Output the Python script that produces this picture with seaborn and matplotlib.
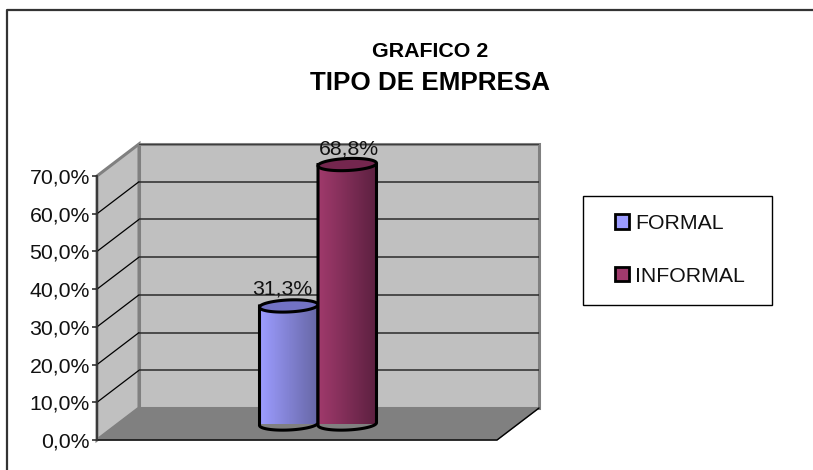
import matplotlib
matplotlib.use("Agg")
import matplotlib.pyplot as plt
import numpy as np
import pandas as pd
import seaborn as sns
from matplotlib.colors import LinearSegmentedColormap
from matplotlib.patches import Patch, Polygon, Rectangle

# --- data ---
tipos = ["FORMAL", "INFORMAL"]
porcentajes = [31.3, 68.8]
etiquetas = ["31,3%", "68,8%"]
ticks = [0, 10, 20, 30, 40, 50, 60, 70]
tick_labels = ["0,0%", "10,0%", "20,0%", "30,0%", "40,0%", "50,0%", "60,0%", "70,0%"]
luz = ["#9C9CFF", "#A03A6C"]
sombra = ["#6666A4", "#5C2040"]
tapa = ["#7272C4", "#74264E"]

W, H = 813, 470
sns.set_theme(style="white")
plt.rcParams["font.family"] = ["Liberation Sans", "DejaVu Sans"]
fig = plt.figure(figsize=(W / 100, H / 100), dpi=100)
font = 15.3


def pix_axes(x0, y_top, x1, y_bot, **kw):
    # axes placed from picture pixels (y going down)
    return fig.add_axes([x0 / W, 1 - y_bot / H, (x1 - x0) / W, (y_bot - y_top) / H], **kw)


# --- box: full figure in pixel coords, for the walls and floor ---
deco = pix_axes(0, 0, W, H)
deco.set_xlim(0, W)
deco.set_ylim(H, 0)
deco.axis("off")
deco.plot([6.5, 6.5, W], [H, 9.5, 9.5], color="#333333", lw=1.6, zorder=1)

fx, fy0, fy1 = 97, 440, 176  # front plane
bx0, bx1, by0, by1 = 139, 539, 408, 144  # back wall
fx1 = 497
deco.add_patch(Polygon([(bx0, by0), (bx1, by0), (bx1, by1), (bx0, by1)], fc="#C0C0C0", ec="#808080", lw=2.2))
deco.add_patch(Polygon([(fx, fy0), (bx0, by0), (bx0, by1), (fx, fy1)], fc="#C0C0C0", ec="#808080", lw=2.2))
deco.add_patch(Polygon([(fx, fy0), (bx0, by0), (bx1, by0), (fx1, fy0)], fc="#808080", ec="#808080", lw=1))
deco.plot([fx, fx1, bx1], [fy0, fy0, by0], color="black", lw=1)
deco.add_patch(Rectangle((582.5, 196), 189, 109, fc="white", ec="black", lw=1))

# --- back wall gridlines ---
ax_back = pix_axes(bx0, by1, bx1, by0)
ax_back.patch.set_alpha(0)
ax_back.set_ylim(0, 70)
ax_back.set_xticks([])
ax_back.set_yticks(ticks[1:-1] + [70])
ax_back.set_yticklabels([])
ax_back.tick_params(left=False)
ax_back.grid(axis="y", color="#2A2A2A", lw=1.1)
sns.despine(ax=ax_back, left=True, bottom=True, top=True, right=True)

# --- front plane: value axis ---
ax_front = pix_axes(fx, fy1, fx1, fy0)
ax_front.patch.set_alpha(0)
ax_front.set_ylim(0, 70)
ax_front.set_xticks([])
ax_front.set_yticks(ticks)
ax_front.set_yticklabels(tick_labels, fontsize=font, color="#111111")
ax_front.tick_params(axis="y", left=True, length=3.6, width=1.1, color="#222222", pad=1.5)
for s in ["top", "right", "bottom"]:
    ax_front.spines[s].set_visible(False)
ax_front.spines["left"].set_color("#333333")
ax_front.spines["left"].set_linewidth(1.3)

# side wall lines join each front tick to the same value on the back wall
for t in ticks[1:]:
    deco.plot([fx, bx0], [fy0 - (fy0 - fy1) * t / 70, by0 - (by0 - by1) * t / 70], color="black", lw=0.9,
              zorder=3 if t < 70 else 0)

# --- cylinders ---
ax = pix_axes(118, 160, 518, 424)
ax.patch.set_alpha(0)
df = pd.DataFrame({"tipo": tipos, "valor": porcentajes, "grupo": [""] * 2})
sns.barplot(data=df, x="grupo", y="valor", hue="tipo", hue_order=tipos, palette=luz, width=0.2925, gap=0,
            legend=False, ax=ax)
ax.set_xlim(-0.5, 0.5)
ax.set_ylim(0, 70)
ax.axis("off")

b = 6 * 70 / 264  # half ellipse height in value units
k = 1.3 * 70 / 264  # tilt of the ellipse
theta = np.linspace(0, 2 * np.pi, 120)
label_off = [(-5, 12.5), (1, 11)]


def ellipse_xy(cx, cy, a):
    return cx + a * np.cos(theta), cy + b * np.sin(theta) + k * np.cos(theta)


for i, bar in enumerate(ax.patches[:2]):
    x0, w, h = bar.get_x(), bar.get_width(), bar.get_height()
    bar.set_visible(False)
    a, cx = w / 2, x0 + w / 2
    # body outline: straight sides, closed by the lower arc of the ellipse
    low = theta[(theta >= np.pi) & (theta <= 2 * np.pi)]
    arc_x = cx + a * np.cos(low)
    arc_y = b * np.sin(low) + k * np.cos(low)
    verts = [(x0, h)] + list(zip(arc_x, arc_y)) + [(x0 + w, h), (x0, h)]
    body = Polygon(verts, closed=True, fc="none", ec="black", lw=2.2, zorder=4 + i, clip_on=False)
    ax.add_patch(body)
    cmap = LinearSegmentedColormap.from_list("c", [luz[i], sombra[i]])
    grad = ax.imshow(np.linspace(0, 1, 64).reshape(1, -1), cmap=cmap, aspect="auto",
                     extent=(x0, x0 + w, -b - k, h), zorder=3.5 + i)
    grad.set_clip_path(body)
    ex, ey = ellipse_xy(cx, h, a)
    ax.fill(ex, ey, fc=tapa[i], ec="black", lw=2.2, zorder=4.5 + i, clip_on=False)
    ax.annotate(etiquetas[i], (cx, h), xytext=label_off[i], textcoords="offset points", ha="center",
                va="center", fontsize=font, color="#111111", zorder=8, annotation_clip=False)
ax.set_xlim(-0.5, 0.5)
ax.set_ylim(0, 70)

# --- titles ---
fig.text(430 / W, 1 - 51.5 / H, "GRAFICO 2", ha="center", va="center", fontsize=15.4, fontweight="bold",
         color="black")
fig.text(430 / W, 1 - 82.5 / H, "TIPO DE EMPRESA", ha="center", va="center", fontsize=18.7, fontweight="bold",
         color="black")

# --- legend ---
handles = [Patch(facecolor=luz[i], edgecolor="black", linewidth=2) for i in range(2)]
leg = fig.legend(handles, tipos, loc="upper left", bbox_to_anchor=(615 / W, 1 - 214 / H),
                 borderaxespad=0, borderpad=0, fontsize=font, frameon=False,
                 handlelength=0.65, handleheight=0.65, handletextpad=0.3, labelspacing=1.58,
                 labelcolor="#111111")

fig.savefig("out.png", dpi=100, facecolor="white")
